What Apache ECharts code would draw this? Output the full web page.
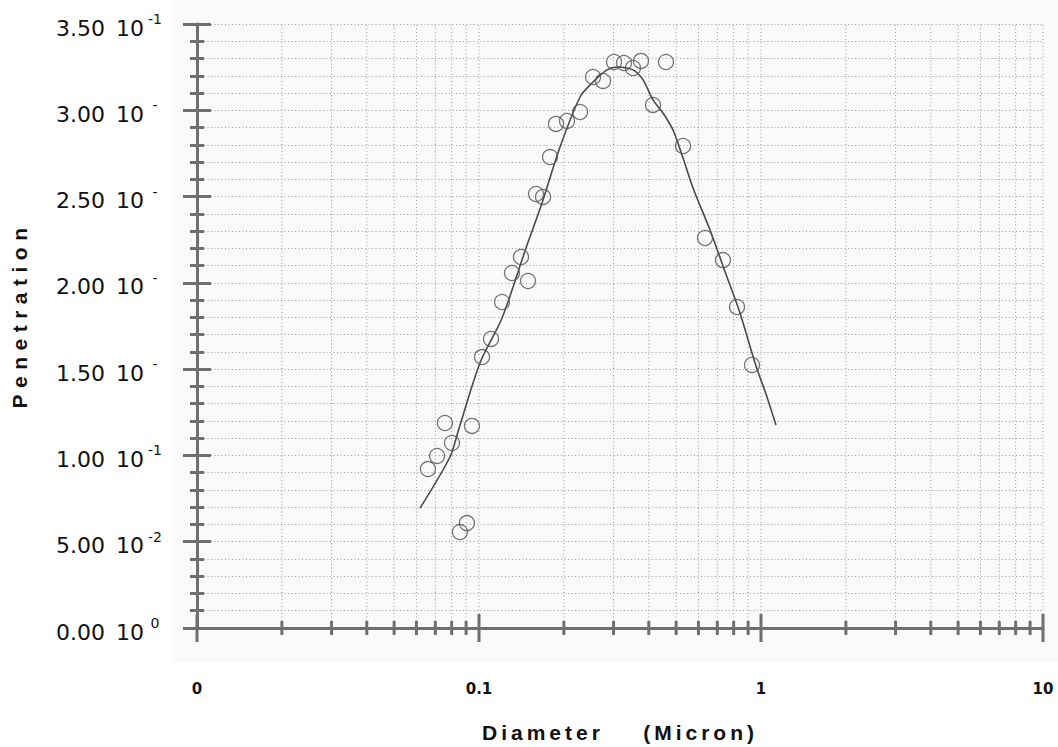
<!DOCTYPE html>
<html>
<head>
<meta charset="utf-8">
<script src="https://cdn.jsdelivr.net/npm/echarts@6/dist/echarts.min.js"></script>
<style>
html, body { margin: 0; padding: 0; background: #fff; }
#chart { width: 1058px; height: 747px; }
</style>
</head>
<body>
<div id="chart"></div>
<script>
// measured points
var diameter = [0.0659, 0.0710, 0.0757, 0.0802, 0.0944, 0.0856, 0.0906, 0.1025, 0.1103, 0.1207,
    0.1309, 0.1409, 0.1492, 0.1593, 0.1687, 0.1786, 0.1875, 0.2051, 0.2282, 0.2537,
    0.2753, 0.3012, 0.3267, 0.3516, 0.3753, 0.4603, 0.4140, 0.5290, 0.6330, 0.7330,
    0.8221, 0.9292];
var penetration = [0.0921, 0.0997, 0.1188, 0.1072, 0.1171, 0.0556, 0.0608, 0.1570, 0.1675, 0.1889,
    0.2057, 0.2150, 0.2011, 0.2515, 0.2498, 0.2729, 0.2921, 0.2938, 0.2990, 0.3193,
    0.3170, 0.3280, 0.3274, 0.3245, 0.3286, 0.3280, 0.3031, 0.2793, 0.2260, 0.2132,
    0.1860, 0.1524];

// fitted curve
var fitDiameter = [0.0618, 0.0789, 0.0842, 0.1008, 0.1207, 0.1468, 0.1673, 0.1938, 0.2282, 0.2516,
    0.2844, 0.3086, 0.3516, 0.3816, 0.4140, 0.4492, 0.4875, 0.5290, 0.5741, 0.6594,
    0.7575, 0.8424, 0.9522, 1.050, 1.130];
var fitPenetration = [0.0695, 0.0991, 0.1136, 0.1536, 0.1796, 0.2202, 0.2463, 0.2787, 0.3077, 0.3158,
    0.3234, 0.3251, 0.3234, 0.3176, 0.3060, 0.2984, 0.2886, 0.2724, 0.2550, 0.2306,
    0.2034, 0.1825, 0.1536, 0.1339, 0.1176];

// axis ticks / labels
var xMajorTicks = [0.01, 0.1, 1, 10];
var xMinorTicks = [0.02, 0.03, 0.04, 0.05, 0.06, 0.07, 0.08, 0.09,
    0.2, 0.3, 0.4, 0.5, 0.6, 0.7, 0.8, 0.9,
    2, 3, 4, 5, 6, 7, 8, 9];
var xTickLabels = ['0', '0.1', '1', '10'];
var yMantissa = ['0.00', '5.00', '1.00', '1.50', '2.00', '2.50', '3.00', '3.50'];
var yExponent = ['0', '-2', '-1', '-', '-', '-', '-', '-1'];

var xName = 'Diameter    (Micron)';
var yName = 'Penetration';

var axisGray = '#6f6f6f';
var dotLine = { color: '#9a9a9a', width: 1, type: [1, 2.5] };

function pairs(xs, ys) {
    return xs.map(function (x, i) { return [x, ys ? ys[i] : 0]; });
}

function tickRenderer(len) {
    return function (params, api) {
        var p = api.coord([api.value(0), 0]);
        return {
            type: 'line',
            shape: { x1: p[0], y1: p[1] - len, x2: p[0], y2: p[1] + len },
            style: { stroke: axisGray, lineWidth: 3 }
        };
    };
}

var myChart = echarts.init(document.getElementById('chart'), null, { renderer: 'svg' });

var labelFont = 'DejaVu Sans';

myChart.setOption({
    backgroundColor: '#fff',
    animation: false,
    graphic: [{
        type: 'rect', z: -10, silent: true,
        shape: { x: 172, y: 0, width: 886, height: 662 },
        style: { fill: '#fafafa' }
    }],
    grid: { left: 197, right: 15, top: 24, bottom: 119, containLabel: false, outerBoundsMode: 'none' },
    xAxis: {
        type: 'log',
        logBase: 10,
        min: 0.01,
        max: 10,
        name: xName,
        nameLocation: 'middle',
        nameGap: 94,
        nameTextStyle: { fontFamily: 'Liberation Sans', fontWeight: 'bold', fontSize: 21, color: '#111' },
        axisLine: { lineStyle: { color: axisGray, width: 3 } },
        axisTick: { show: false },
        splitLine: { show: false },
        axisLabel: {
            margin: 53,
            fontFamily: labelFont, fontWeight: 'bold', fontSize: 15, color: '#111',
            formatter: function (v) {
                var i = xMajorTicks.indexOf(+v.toPrecision(3));
                return i >= 0 ? xTickLabels[i] : '';
            }
        }
    },
    yAxis: [{
        type: 'value',
        position: 'left',
        min: 0,
        max: 0.35,
        interval: 0.05,
        name: yName,
        nameLocation: 'middle',
        nameRotate: 90,
        nameGap: 167,
        nameTextStyle: { fontFamily: 'Liberation Sans', fontWeight: 'bold', fontSize: 21, color: '#111', padding: [0, 0, 0, 22] },
        axisLine: { show: true, lineStyle: { color: axisGray, width: 3 } },
        axisTick: { show: true, length: 14, lineStyle: { color: axisGray, width: 3 } },
        minorTick: { show: true, splitNumber: 5, length: 7, lineStyle: { color: axisGray, width: 3 } },
        splitLine: { show: true, lineStyle: dotLine },
        minorSplitLine: { show: true, lineStyle: dotLine },
        axisLabel: {
            margin: 31,
            padding: [8, 0, 0, 0],
            formatter: function (v) {
                var i = Math.round(v / 0.05);
                return '{m|' + yMantissa[i] + ' }{e|10}{s|' + yExponent[i] + '}';
            },
            rich: {
                m: { fontFamily: labelFont, fontSize: 22, lineHeight: 32, color: '#111', padding: [0, 4, 0, 0] },
                e: { fontFamily: labelFont, fontSize: 22, lineHeight: 32, color: '#111' },
                s: { fontFamily: labelFont, fontSize: 14, lineHeight: 14, color: '#111', verticalAlign: 'top', align: 'left', width: 22 }
            }
        }
    }, {
        // second axis only for the inner half of the crossing ticks
        type: 'value',
        position: 'left',
        min: 0,
        max: 0.35,
        interval: 0.05,
        axisLine: { show: false },
        axisTick: { show: true, inside: true, length: 14, lineStyle: { color: axisGray, width: 3 } },
        minorTick: { show: true, splitNumber: 5, length: 7, lineStyle: { color: axisGray, width: 3 } },
        splitLine: { show: false },
        axisLabel: { show: false }
    }],
    series: [
        {
            // vertical dotted grid of the log axis
            type: 'custom',
            silent: true,
            z: 1,
            data: pairs(xMinorTicks.concat(xMajorTicks.slice(1))),
            renderItem: function (params, api) {
                var a = api.coord([api.value(0), 0]);
                var b = api.coord([api.value(0), 0.35]);
                return {
                    type: 'line',
                    shape: { x1: a[0], y1: a[1], x2: b[0], y2: b[1] },
                    style: { stroke: dotLine.color, lineWidth: 1, lineDash: dotLine.type }
                };
            }
        },
        {
            type: 'custom', silent: true, z: 3,
            data: pairs(xMinorTicks),
            renderItem: tickRenderer(7)
        },
        {
            type: 'custom', silent: true, z: 3,
            data: pairs(xMajorTicks),
            renderItem: tickRenderer(14)
        },
        {
            type: 'line',
            data: pairs(fitDiameter, fitPenetration),
            smooth: 0.3,
            showSymbol: false,
            z: 4,
            lineStyle: { color: '#4a4a4a', width: 1.6 }
        },
        {
            type: 'scatter',
            data: pairs(diameter, penetration),
            symbol: 'circle',
            symbolSize: 15,
            z: 5,
            itemStyle: { color: 'rgba(0,0,0,0)', borderColor: '#555', borderWidth: 1.3 }
        }
    ]
});

// wide letter spacing of the axis titles (svg text)
function spaceTitles() {
    var texts = document.querySelectorAll('#chart text');
    for (var i = 0; i < texts.length; i++) {
        var t = texts[i].textContent;
        if (t === yName) texts[i].style.letterSpacing = '6.5px';
        else if (t === xName) texts[i].style.letterSpacing = '4px';
    }
}
myChart.on('finished', spaceTitles);
setTimeout(spaceTitles, 50);
</script>
</body>
</html>
